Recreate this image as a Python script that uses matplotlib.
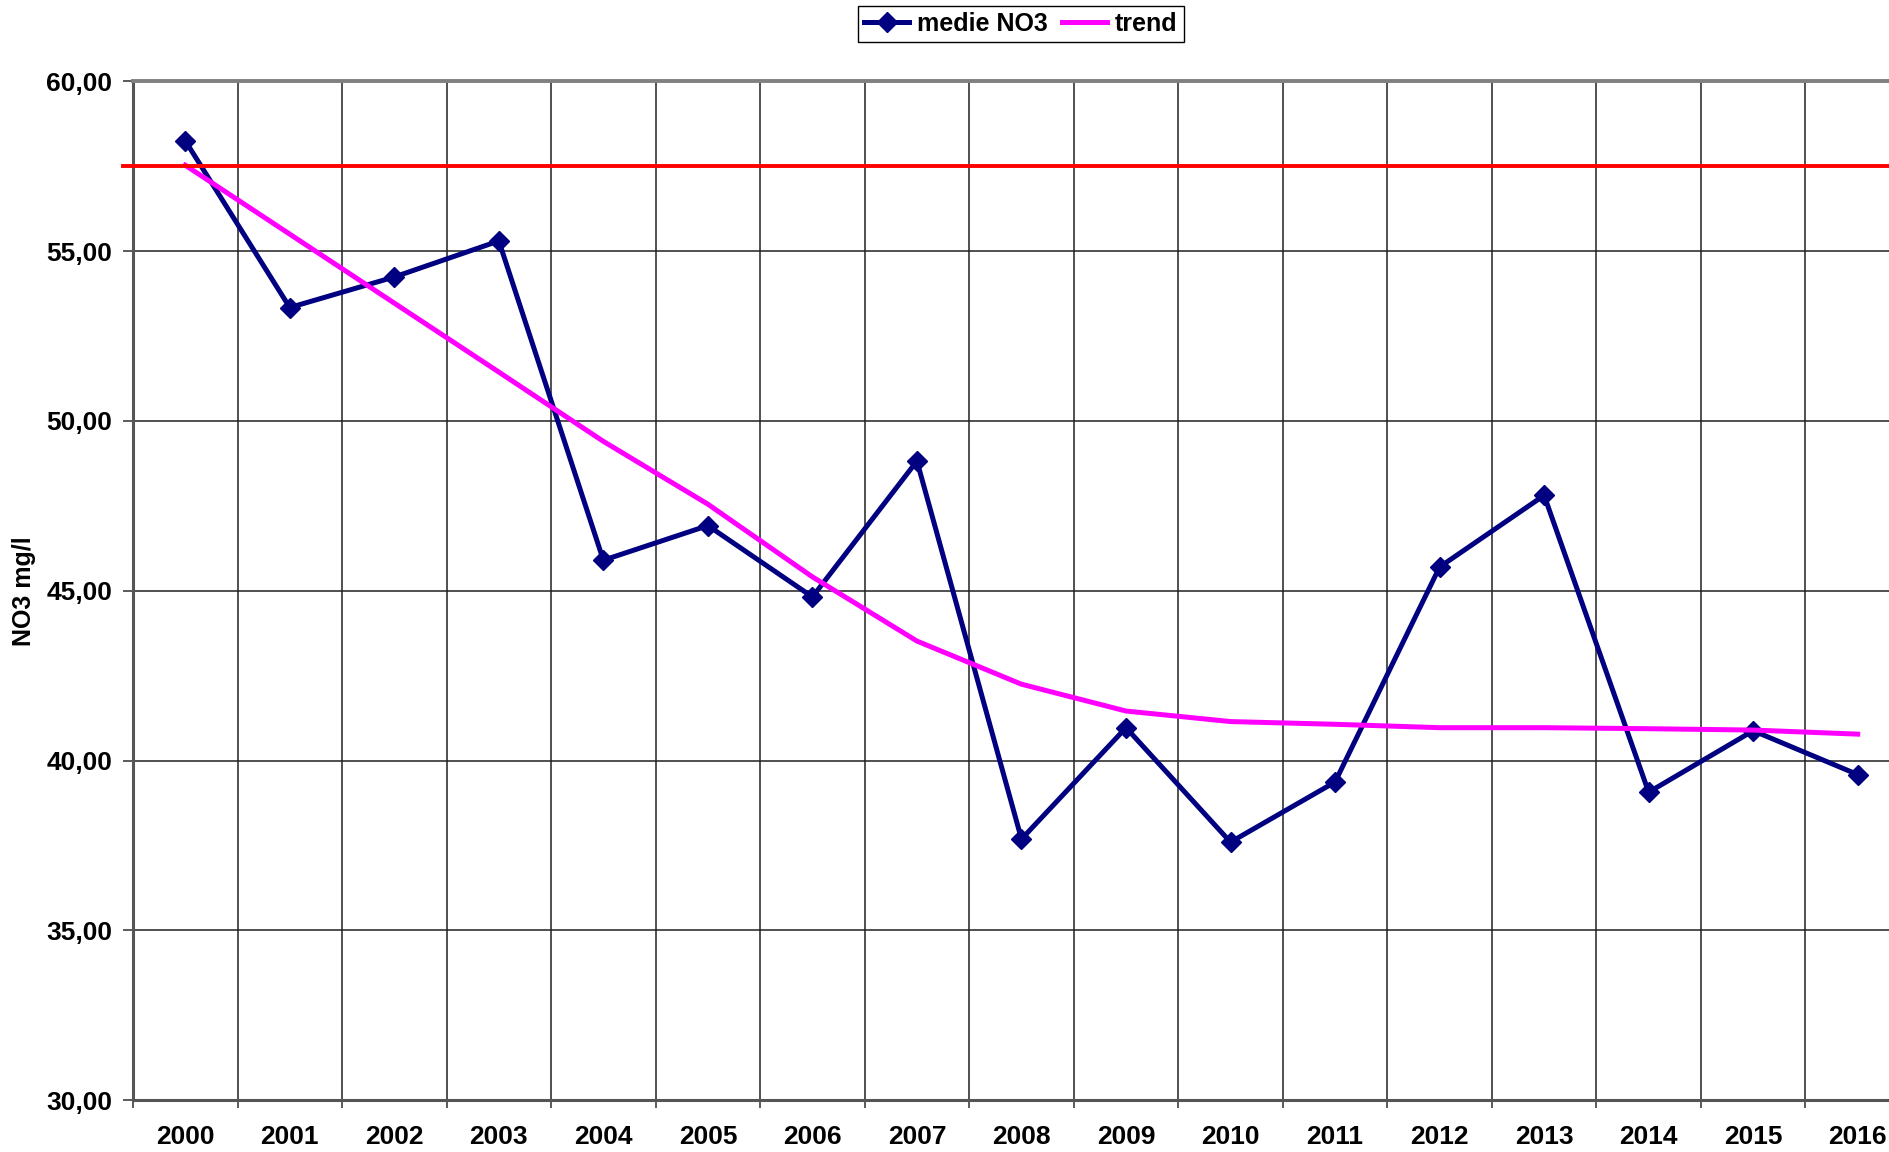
import matplotlib
matplotlib.use("Agg")
from matplotlib import pyplot as plt
from matplotlib.ticker import FuncFormatter, FixedLocator

plt.rcParams['font.family'] = ['Liberation Sans', 'DejaVu Sans']
plt.rcParams['font.weight'] = 'bold'

years = ["2000", "2001", "2002", "2003", "2004", "2005", "2006", "2007", "2008",
         "2009", "2010", "2011", "2012", "2013", "2014", "2015", "2016"]
medie_no3 = [58.25, 53.34, 54.24, 55.30, 45.90, 46.92, 44.82, 48.82, 37.69,
             40.97, 37.60, 39.37, 45.70, 47.81, 39.07, 40.88, 39.59]
trend = [57.53, 55.50, 53.47, 51.44, 49.40, 47.55, 45.41, 43.52, 42.25,
         41.46, 41.15, 41.07, 40.97, 40.97, 40.94, 40.90, 40.78]
limit = 57.5
y_ticks = [30, 35, 40, 45, 50, 55, 60]

fig = plt.figure(figsize=(18.89, 11.52), dpi=100)
ax = fig.add_axes([0.0704, 0.0449, 0.9407, 0.8845])

x = list(range(len(years)))

# lines
ax.plot(x, medie_no3, color="#000080", linewidth=3.6, marker="D", markersize=10,
        label="medie NO3", zorder=4)
ax.plot(x, trend, color="#FF00FF", linewidth=3.6, label="trend", zorder=5)
ax.axhline(limit, xmin=-0.0056, xmax=1, color="#FF0000", linewidth=2.8,
           clip_on=False, zorder=6)

# axes
ax.set_xlim(-0.5, len(years) - 0.5)
ax.set_ylim(30, 60)
ax.set_yticks(y_ticks)
ax.yaxis.set_major_formatter(FuncFormatter(lambda v, p: ("%.2f" % v).replace(".", ",")))
ax.set_xticks(x)
ax.set_xticklabels(years)
ax.xaxis.set_minor_locator(FixedLocator([i - 0.5 for i in range(len(years) + 1)]))

ax.tick_params(axis="x", which="major", length=0, pad=18, labelsize=19)
ax.tick_params(axis="x", which="minor", length=6, width=1.2, direction="out", color="#404040")
ax.tick_params(axis="y", which="major", length=7, width=1.2, direction="out", pad=8,
               labelsize=19, color="#404040")

ax.grid(True, axis="y", which="major", color="#202020", linewidth=1.1, zorder=1)
ax.grid(True, axis="x", which="minor", color="#202020", linewidth=1.1, zorder=1)
ax.set_axisbelow(True)

for side in ["left", "bottom"]:
    ax.spines[side].set_color("#555555")
    ax.spines[side].set_linewidth(2.2)
ax.spines["top"].set_color("#808080")
ax.spines["top"].set_linewidth(2.8)
ax.spines["right"].set_visible(False)

ax.set_ylabel("NO3 mg/l", fontsize=18, fontweight="bold")
ax.yaxis.set_label_coords(-0.0546, 0.5)

leg = ax.legend(loc="center", bbox_to_anchor=(0.5404, 0.979), bbox_transform=fig.transFigure,
                ncol=2, fontsize=18, frameon=True, fancybox=False, framealpha=1,
                edgecolor="black", handlelength=1.8, columnspacing=0.6, handletextpad=0.3,
                borderpad=0.25, borderaxespad=0)
leg.get_frame().set_linewidth(1.0)

plt.savefig("out.png", dpi=100)
